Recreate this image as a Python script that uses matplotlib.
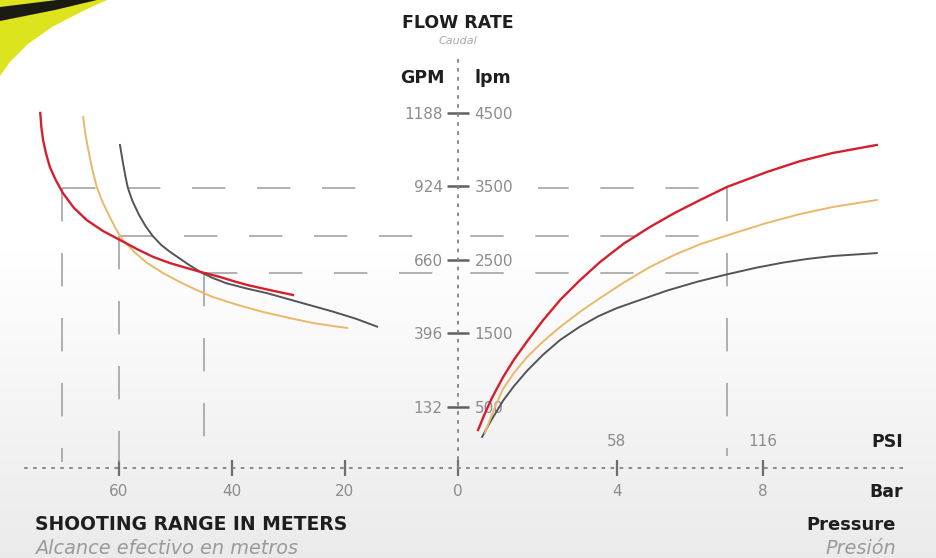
import numpy as np
import matplotlib
matplotlib.use('Agg')
import matplotlib.pyplot as plt
from matplotlib.patches import Polygon

plt.rcParams['font.family'] = ['DejaVu Sans']

# left half: shooting range (m) against flow (lpm)
range_red = [73.9, 73.7, 73.4, 72.9, 72.2, 71.2, 69.9, 68.0, 65.7, 62.8, 59.8, 56.8, 53.9,
             51.0, 48.0, 45.0, 42.1, 39.7, 37.3, 33.2, 29.2]
flow_red_l = [4496, 4300, 4129, 3950, 3761, 3590, 3407, 3210, 3040, 2890, 2768, 2645, 2537,
              2455, 2387, 2322, 2265, 2208, 2156, 2085, 2020]
range_yel = [66.3, 65.9, 65.4, 64.7, 63.9, 62.8, 61.6, 60.5, 59.3, 57.2, 55.0, 52.1, 49.2,
             46.3, 43.4, 39.0, 34.5, 30.0, 25.7, 22.6, 19.6]
flow_yel_l = [4441, 4200, 3993, 3730, 3489, 3270, 3081, 2915, 2768, 2600, 2455, 2315, 2196,
              2090, 1993, 1885, 1789, 1710, 1639, 1603, 1571]
range_gry = [59.8, 59.3, 58.8, 58.4, 57.6, 56.5, 55.3, 54.0, 52.5, 51.0, 49.7, 47.6, 45.5,
             43.5, 41.0, 37.5, 33.8, 28.0, 22.1, 18.0, 14.3]
flow_gry_l = [4061, 3830, 3620, 3476, 3300, 3120, 2960, 2822, 2700, 2610, 2541, 2430, 2330,
              2255, 2180, 2110, 2045, 1920, 1793, 1695, 1589]

# right half: pressure (bar) against flow (lpm)
bar_red = [0.22, 0.40, 0.60, 0.90, 1.20, 1.56, 2.0, 2.46, 3.0, 3.55, 4.2, 4.91, 5.6, 6.28,
           7.01, 8.10, 9.0, 9.90, 11.1]
flow_red_r = [183, 400, 620, 900, 1140, 1390, 1680, 1952, 2220, 2469, 2720, 2945, 3140, 3312,
              3489, 3693, 3840, 3952, 4061]
bar_yel = [0.41, 0.55, 0.70, 0.90, 1.2, 1.56, 2.0, 2.46, 3.0, 3.47, 4.2, 4.91, 5.6, 6.28,
           7.01, 8.10, 9.0, 9.90, 11.1]
flow_yel_r = [142, 330, 520, 740, 960, 1177, 1390, 1585, 1790, 1952, 2190, 2401, 2570, 2710,
              2830, 3000, 3120, 3217, 3312]
bar_gry = [0.33, 0.55, 0.90, 1.2, 1.56, 2.0, 2.46, 3.0, 3.5, 4.0, 4.64, 5.38, 6.2, 7.01,
           7.8, 8.54, 9.2, 9.90, 11.1]
flow_gry_r = [88, 290, 580, 780, 990, 1210, 1408, 1590, 1730, 1840, 1952, 2080, 2200, 2300,
              2390, 2460, 2510, 2550, 2590]

# reference (dashed) lines
ref_flow = [3476, 2822, 2319]
ref_range = [70, 60, 45]
ref_range_end = [14.7, 3.7, 1.9]
ref_bar = 7.0
ref_bar_start = [1.86, 0.0, 0.0]

# axes ticks
lpm_ticks = [500, 1500, 2500, 3500, 4500]
lpm_labels = ['500', '1500', '2500', '3500', '4500']
gpm_labels = ['132', '396', '660', '924', '1188']
range_ticks = [60, 40, 20, 0]
range_labels = ['60', '40', '20', '0']
bar_ticks = [4, 8]
bar_labels = ['4', '8']
psi_labels = ['58', '116']

RED = '#d4202e'
YEL = '#e9b86a'
GRY = '#50555a'
DASH = '#a3a3a3'
LBL = '#8c8c8c'

W, H = 937, 558
fig = plt.figure(figsize=(W / 100, H / 100), dpi=100)

# background + decoration, pixel coordinates
bg = fig.add_axes([0, 0, 1, 1], zorder=-1)
bg.set_xlim(0, W)
bg.set_ylim(H, 0)
bg.axis('off')
rows = np.linspace(0, 1, H)
shade = 1 - 0.08 * np.clip((rows - 0.45) / 0.55, 0, 1)
grad = np.dstack([shade, shade, shade]).reshape(H, 1, 3)
bg.imshow(grad, extent=[0, W, H, 0], aspect='auto')
bg.add_patch(Polygon([(0, 0), (107, 0), (85, 10), (52, 27), (28, 44), (10, 62), (0, 76)],
                     closed=True, color='#dde41e', lw=0))
bg.add_patch(Polygon([(0, 7), (57, 0), (97, 0), (55, 10), (0, 21)],
                     closed=True, color='#1a1a14', lw=0))

bottom = (H - 468) / H
height = (468 - 58) / H
ax_l = fig.add_axes([25 / W, bottom, 433 / W, height])
ax_r = fig.add_axes([458 / W, bottom, 447 / W, height])

ylim = (-334, 5244)
for ax in (ax_l, ax_r):
    ax.set_facecolor('none')
    ax.set_ylim(*ylim)
    for s in ax.spines.values():
        s.set_visible(False)
    sp = ax.spines['bottom']
    sp.set_visible(True)
    sp.set_linestyle((0, (1, 4)))
    sp.set_linewidth(1.3)
    sp.set_color('#808080')

ax_l.set_xlim(76.6, 0)
ax_r.set_xlim(-0.327, 11.87)

ax_r.spines['left'].set_visible(True)
ax_r.spines['left'].set_linestyle((0, (1, 4)))
ax_r.spines['left'].set_linewidth(1.3)
ax_r.spines['left'].set_color('#808080')

# curves
ax_l.plot(range_yel, flow_yel_l, color=YEL, lw=1.4, clip_on=False, zorder=3)
ax_l.plot(range_gry, flow_gry_l, color=GRY, lw=1.4, clip_on=False, zorder=3)
ax_l.plot(range_red, flow_red_l, color=RED, lw=1.7, clip_on=False, zorder=4)
ax_r.plot(bar_gry, flow_gry_r, color=GRY, lw=1.4, zorder=3)
ax_r.plot(bar_yel, flow_yel_r, color=YEL, lw=1.4, zorder=3)
ax_r.plot(bar_red, flow_red_r, color=RED, lw=1.7, zorder=4)

# dashed guides
dash = (0, (20, 19))
for f, r0, r1 in zip(ref_flow, ref_range, ref_range_end):
    ax_l.plot([r0, r1], [f, f], color=DASH, lw=1.2, ls=dash, zorder=2)
    ax_l.plot([r0, r0], [f, -250], color=DASH, lw=1.2, ls=dash, zorder=2)
for f, b0 in zip(ref_flow, ref_bar_start):
    ax_r.plot([ref_bar, b0], [f, f], color=DASH, lw=1.2, ls=(22, (20, 19)), zorder=2)
ax_r.plot([ref_bar, ref_bar], [ref_flow[0], -170], color=DASH, lw=1.2, ls=dash, zorder=2)

# ticks
ax_l.set_xticks(range_ticks)
ax_l.set_xticklabels(range_labels)
ax_r.set_xticks(bar_ticks)
ax_r.set_xticklabels(bar_labels)
for ax in (ax_l, ax_r):
    ax.tick_params(axis='x', direction='inout', length=11, width=1.6, color='#6e6e6e',
                   labelsize=11, labelcolor=LBL, pad=6)

ax_l.yaxis.tick_right()
ax_l.set_yticks(lpm_ticks)
ax_l.set_yticklabels(lpm_labels)
ax_l.tick_params(axis='y', length=0, pad=12, labelsize=11, labelcolor=LBL)

ax_r.set_yticks(lpm_ticks)
ax_r.set_yticklabels(gpm_labels)
ax_r.tick_params(axis='y', direction='inout', length=16, width=1.8, color='#606060',
                 pad=3, labelsize=11, labelcolor=LBL)

for b, p in zip(bar_ticks, psi_labels):
    ax_r.text(b, (468 - 442) / 410, p, transform=ax_r.get_xaxis_transform(),
              ha='center', va='center', fontsize=11, color=LBL)

# titles / labels
bold = dict(fontweight='bold', color='#1e1e1e')
bg.text(458, 23, 'FLOW RATE', ha='center', va='center', fontsize=12.5, **bold)
bg.text(458, 41, 'Caudal', ha='center', va='center', fontsize=8, style='italic', color='#a8a8a8')
bg.text(422, 78, 'GPM', ha='center', va='center', fontsize=12.5, **bold)
bg.text(475, 78, 'lpm', ha='left', va='center', fontsize=12.5, **bold)
bg.text(35, 525, 'SHOOTING RANGE IN METERS', ha='left', va='center', fontsize=13.5, **bold)
bg.text(35, 548, 'Alcance efectivo en metros', ha='left', va='center', fontsize=13.9,
        style='italic', color='#9a9a9a')
bg.text(896, 525, 'Pressure', ha='right', va='center', fontsize=13, **bold)
bg.text(896, 548, 'Presión', ha='right', va='center', fontsize=13.9, style='italic', color='#9a9a9a')
bg.text(903, 442, 'PSI', ha='right', va='center', fontsize=12.5, **bold)
bg.text(903, 492, 'Bar', ha='right', va='center', fontsize=12.5, **bold)

fig.savefig('out.png', dpi=100)
